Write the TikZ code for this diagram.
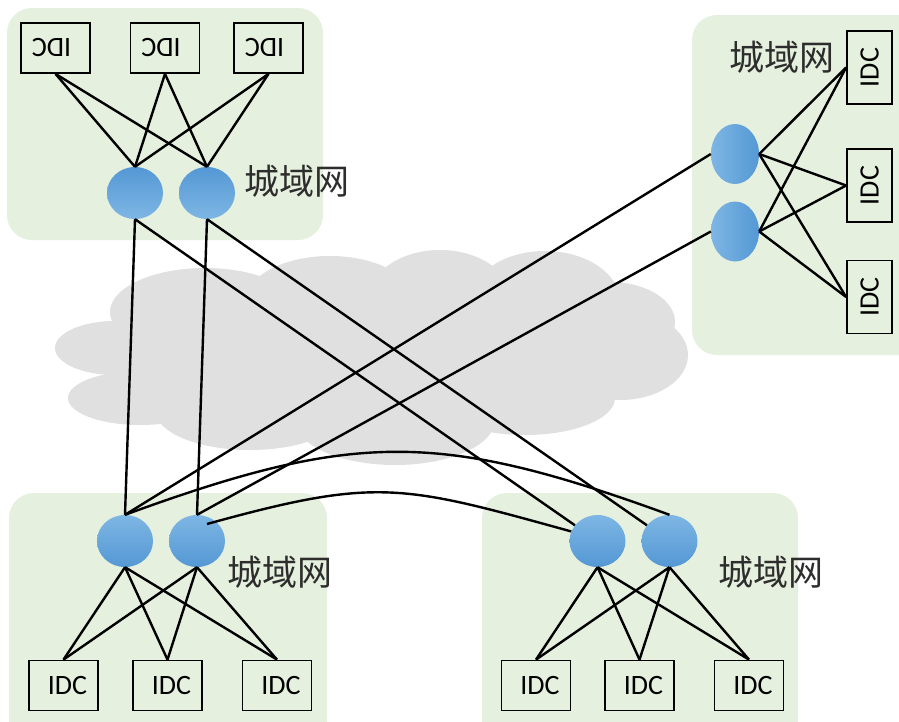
\documentclass[tikz,border=0pt]{standalone}
\usepackage{fontspec}
\newfontfamily\idcfont{Carlito}
\newfontfamily\cjk{Noto Sans CJK SC}
\usetikzlibrary{calc,shapes.geometric}
\definecolor{panelgreen}{RGB}{230,240,222}
\definecolor{cloudgray}{RGB}{224,224,224}
\definecolor{blueA}{RGB}{84,152,212}
\definecolor{blueB}{RGB}{126,182,228}
\definecolor{labelgray}{RGB}{45,45,45}
\tikzset{
  panel/.style={fill=panelgreen, rounded corners=25pt},
  idcbox/.style={draw=black, line width=1.8pt, minimum width=69pt, minimum height=50pt, inner sep=0pt,
    font={\idcfont\fontsize{28pt}{32pt}\selectfont}},
  vbox/.style={idcbox, minimum width=45pt, minimum height=73pt},
  router/.style={ellipse, minimum width=56pt, minimum height=52pt, inner sep=0pt},
  routerdown/.style={router, top color=blueA, bottom color=blueB},
  routerup/.style={router, top color=blueB, bottom color=blueA},
  routerside/.style={router, minimum width=48pt, minimum height=60pt, left color=blueB, right color=blueA},
  link/.style={line width=2.4pt, black},
  mlabel/.style={font={\cjk\fontsize{35pt}{40pt}\selectfont}, text=labelgray, inner sep=0pt},
  cloudpart/.style={fill=cloudgray, draw=none}
}
\begin{document}
\begin{tikzpicture}[x=1pt,y=-1pt]
\useasboundingbox (0,0) rectangle (899,721);
\clip (0,0) rectangle (899,721);
\fill[white] (0,0) rectangle (899,721);

% panels
\fill[panel] (7,8) rectangle (323,240);
\fill[panel] (692,15) rectangle (935,355);
\fill[panel] (9,493) rectangle (327,745);
\fill[panel] (482,493) rectangle (798,745);

% cloud
\fill[cloudpart] (115,348) ellipse [x radius=60, y radius=27];
\fill[cloudpart] (140,398) ellipse [x radius=72, y radius=27];
\fill[cloudpart] (205,312) ellipse [x radius=95, y radius=44];
\fill[cloudpart] (330,302) ellipse [x radius=85, y radius=46];
\fill[cloudpart] (440,297) ellipse [x radius=70, y radius=47];
\fill[cloudpart] (545,302) ellipse [x radius=75, y radius=51];
\fill[cloudpart] (610,322) ellipse [x radius=65, y radius=40];
\fill[cloudpart] (620,355) ellipse [x radius=68, y radius=45];
\fill[cloudpart] (525,398) ellipse [x radius=90, y radius=37];
\fill[cloudpart] (395,420) ellipse [x radius=100, y radius=45];
\fill[cloudpart] (250,410) ellipse [x radius=95, y radius=40];
\fill[cloudpart] (370,355) ellipse [x radius=250, y radius=80];

% top-left group
\node[idcbox] (ta) at (55.5,48) {\reflectbox{\hspace{8pt}IDC}};
\node[idcbox] (tb) at (165,48) {\reflectbox{\hspace{8pt}IDC}};
\node[idcbox] (tc) at (268.5,48) {\reflectbox{\hspace{8pt}IDC}};
\node[routerdown] (t1) at (135,193) {};
\node[routerdown] (t2) at (207,193) {};
\node[mlabel] (tl) at (297,181) {城域网};

% top-right group
\node[vbox] (ra) at (869.5,67.5) {\rotatebox{90}{IDC}};
\node[vbox] (rb) at (869.5,185.5) {\rotatebox{90}{IDC}};
\node[vbox] (rc) at (869.5,297) {\rotatebox{90}{IDC}};
\node[routerside] (r1) at (735,154) {};
\node[routerside] (r2) at (735,231.5) {};
\node[mlabel] (rl) at (782,57) {城域网};

% bottom-left group
\node[idcbox] (ba) at (63.5,685.5) {\raisebox{-3pt}{\hspace{8pt}IDC}};
\node[idcbox] (bb) at (167.5,685.5) {\raisebox{-3pt}{\hspace{8pt}IDC}};
\node[idcbox] (bc) at (277,685.5) {\raisebox{-3pt}{\hspace{8pt}IDC}};
\node[routerup] (b1) at (125,541) {};
\node[routerup] (b2) at (197,541) {};
\node[mlabel] (bl) at (280,572) {城域网};

% bottom-right group
\node[idcbox] (ca) at (536,685.5) {\raisebox{-3pt}{\hspace{8pt}IDC}};
\node[idcbox] (cb) at (639.5,685.5) {\raisebox{-3pt}{\hspace{8pt}IDC}};
\node[idcbox] (cc) at (749,685.5) {\raisebox{-3pt}{\hspace{8pt}IDC}};
\node[routerup] (c1) at (597.5,541) {};
\node[routerup] (c2) at (669.5,541) {};
\node[mlabel] (cl) at (771,572) {城域网};

% local links
\foreach \b in {ta,tb,tc}{
  \draw[link] (\b.south) -- (t1.north);
  \draw[link] (\b.south) -- (t2.north);
}
\foreach \b in {ra,rb,rc}{
  \draw[link] (r1.east) -- (\b.west);
  \draw[link] (r2.east) -- (\b.west);
}
\foreach \b in {ba,bb,bc}{
  \draw[link] (b1.south) -- (\b.north);
  \draw[link] (b2.south) -- (\b.north);
}
\foreach \b in {ca,cb,cc}{
  \draw[link] (c1.south) -- (\b.north);
  \draw[link] (c2.south) -- (\b.north);
}

% backbone links
\draw[link] (t1.south) -- (b1.north);
\draw[link] (t2.south) -- (b2.north);
\draw[link] (t1.south) -- (c1);
\draw[link] (t2.south) -- (c2);
\draw[link] (r1.west) -- (b1.north);
\draw[link] (r2.west) -- (b2.north);
\draw[link] (b1.north) .. controls +(230,-84) and +(-230,-84) .. (c2.north);
\draw[link] ($(b2.center)+(10,-17)$) .. controls +(170,-47) and +(-170,-47) .. (c1.160);
\end{tikzpicture}
\end{document}
